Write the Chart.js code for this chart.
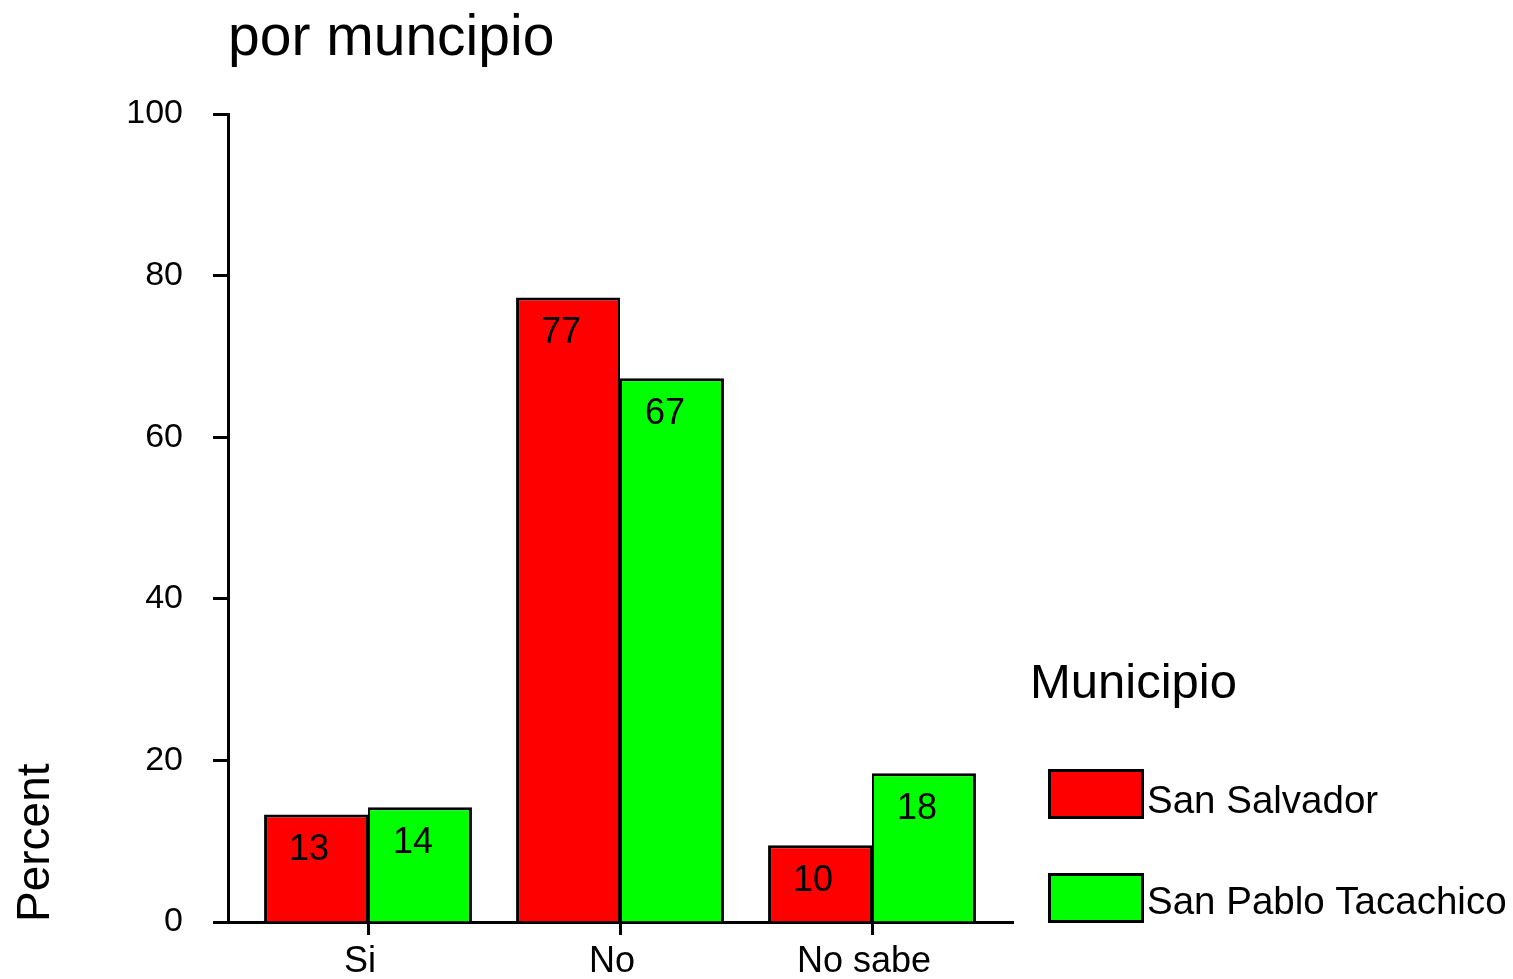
<!DOCTYPE html>
<html><head><meta charset="utf-8">
<script src="https://cdn.jsdelivr.net/npm/chart.js@4.4.0/dist/chart.umd.min.js"></script>
<style>html,body{margin:0;padding:0;background:#fff;overflow:hidden}#wrap{width:1513px;height:979px;position:relative}</style>
</head><body><div id="wrap"><canvas id="c" width="1513" height="979"></canvas></div>
<script>
const categories = ['Si', 'No', 'No sabe'];
const seriesNames = ['San Salvador', 'San Pablo Tacachico'];
const sanSalvador = [13.3, 77.3, 9.5];
const sanPablo = [14.2, 67.3, 18.4];
const yTicks = [0, 20, 40, 60, 80, 100];
const chartTitle = 'por muncipio';
const legendTitle = 'Municipio';
const yTitle = 'Percent';
const seriesColors = ['#ff0000', '#00ff00'];

const FONT = '"Liberation Sans", Arial, sans-serif';

const decoPlugin = {
  id: 'deco',
  afterDatasetsDraw(chart) {
    const ctx = chart.ctx;
    ctx.save();
    ctx.fillStyle = '#000';
    ctx.font = '36px ' + FONT;
    ctx.textAlign = 'center';
    ctx.textBaseline = 'middle';
    chart.data.datasets.forEach((ds, di) => {
      const meta = chart.getDatasetMeta(di);
      meta.data.forEach((el, i) => {
        const v = ds.data[i].y;
        ctx.fillText(String(Math.round(v)), el.x - 7, el.y + 36);
      });
    });
    ctx.restore();
  },
  afterDraw(chart) {
    const ctx = chart.ctx;
    ctx.save();
    ctx.fillStyle = '#000';
    ctx.textAlign = 'left';
    ctx.textBaseline = 'alphabetic';
    ctx.font = '57px ' + FONT;
    ctx.fillText(chartTitle, 228, 55);
    // legend
    ctx.font = '49px ' + FONT;
    ctx.fillText(legendTitle, 1030, 698);
    const boxTops = [770, 874];
    const baselines = [813, 914];
    chart.data.datasets.forEach((ds, di) => {
      ctx.fillStyle = ds.backgroundColor;
      ctx.fillRect(1049, boxTops[di], 94, 48);
      ctx.strokeStyle = '#000';
      ctx.lineWidth = 3;
      ctx.strokeRect(1049.5, boxTops[di] + 0.5, 93, 47);
      ctx.fillStyle = '#000';
      ctx.font = '38.5px ' + FONT;
      ctx.fillText(ds.label, 1147, baselines[di]);
    });
    ctx.restore();
  }
};

new Chart(document.getElementById('c'), {
  type: 'bar',
  data: {
    datasets: [
      {
        label: seriesNames[0],
        data: sanSalvador.map((v, i) => ({ x: i + 1, y: v })),
        backgroundColor: seriesColors[0],
        borderColor: '#000',
        borderWidth: { top: 3, left: 3, right: 2, bottom: 0 },
        borderSkipped: false
      },
      {
        label: seriesNames[1],
        data: sanPablo.map((v, i) => ({ x: i + 1, y: v })),
        backgroundColor: seriesColors[1],
        borderColor: '#000',
        borderWidth: { top: 3, left: 2, right: 3, bottom: 0 },
        borderSkipped: false
      }
    ]
  },
  options: {
    responsive: false,
    animation: false,
    devicePixelRatio: 1,
    categoryPercentage: 0.825,
    barPercentage: 1.0,
    layout: { padding: { top: 114, right: 500, bottom: 0, left: 0 } },
    plugins: { legend: { display: false }, title: { display: false }, tooltip: { enabled: false } },
    scales: {
      x: {
        type: 'linear',
        min: 0.4444,
        max: 3.5595,
        offset: false,
        afterBuildTicks: (s) => { s.ticks = categories.map((c, i) => ({ value: i + 1 })); },
        afterFit: (s) => { s.height = 57; },
        ticks: {
          callback: (v) => categories[Math.round(v) - 1] || '',
          font: { size: 36, family: FONT },
          color: '#000',
          padding: 5,
          labelOffset: -8,
          autoSkip: false,
          maxRotation: 0
        },
        grid: { offset: false, drawOnChartArea: false, drawTicks: true, tickLength: 13, tickWidth: 3, tickColor: '#000' },
        border: { display: true, color: '#000', width: 3 }
      },
      y: {
        min: 0,
        max: 100,
        afterBuildTicks: (s) => { s.ticks = yTicks.map(v => ({ value: v })); },
        afterFit: (s) => { s.width = 228; },
        ticks: { font: { size: 34, family: FONT }, color: '#000', padding: 30 },
        grid: { drawOnChartArea: false, drawTicks: true, tickLength: 15, tickWidth: 3, tickColor: '#000' },
        border: { display: true, color: '#000', width: 3 },
        title: { display: true, text: yTitle, align: 'start', color: '#000', font: { size: 46, family: FONT }, padding: { top: 9, bottom: 0 } }
      }
    }
  },
  plugins: [decoPlugin]
});
</script></body></html>
